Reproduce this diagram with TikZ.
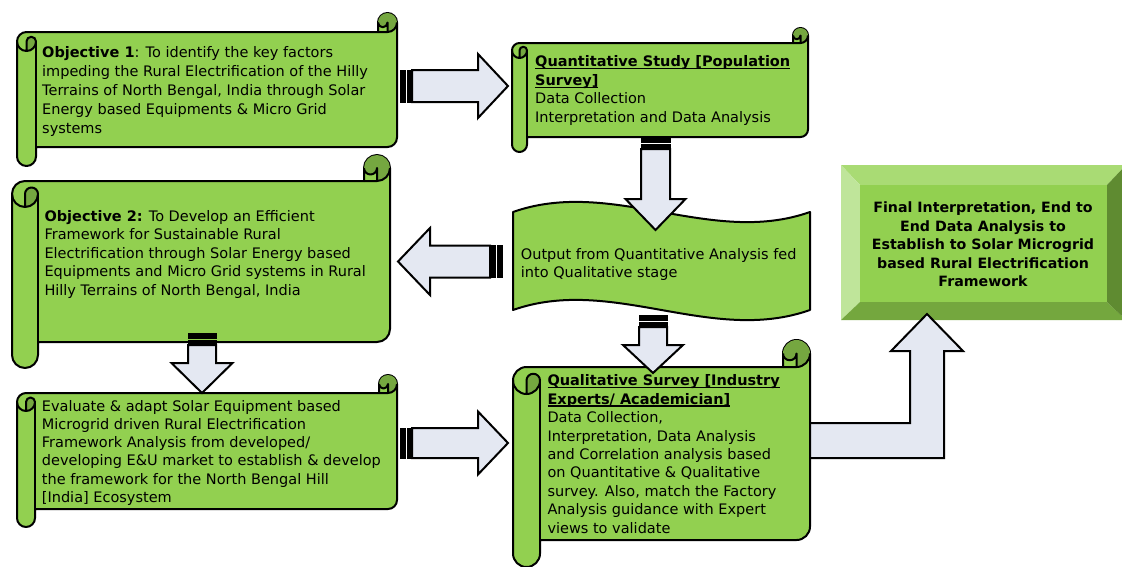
\documentclass[tikz,border=0pt]{standalone}
\usepackage{fontspec}
\setmainfont{DejaVu Sans}
\usetikzlibrary{calc}

\definecolor{scrollgreen}{HTML}{92D050}
\definecolor{curlgreen}{HTML}{75A740}
\definecolor{arrowfill}{HTML}{E4E8F2}
\definecolor{bevtop}{HTML}{A9DB74}
\definecolor{bevleft}{HTML}{BFE59A}
\definecolor{bevright}{HTML}{5F8B31}
\definecolor{bevbottom}{HTML}{74A73E}

\tikzset{
  outline/.style={draw=black, line width=2pt, line join=round},
  scrollbody/.style={outline, fill=scrollgreen},
  arrowbody/.style={draw=black, line width=2pt, line join=miter, fill=arrowfill},
  stripe/.style={fill=black, draw=black, line width=0.5pt},
  txt/.style={inner sep=0pt, anchor=base west, font=\fontsize{14.5}{18.5}\selectfont},
  ctxt/.style={inner sep=0pt, anchor=base, font=\bfseries\fontsize{14.2}{18.5}\selectfont}
}

% underline with a fixed offset below the baseline
\newcommand\ulbox[1]{\setbox0\hbox{#1}\rlap{\rule[-2.6pt]{\wd0}{1.3pt}}\box0}

% horizontal scroll: left, top, right, bottom, roll size
\newcommand\drawscroll[5]{%
  \pgfmathsetmacro\sxl{#1}\pgfmathsetmacro\syt{#2}%
  \pgfmathsetmacro\sxr{#3}\pgfmathsetmacro\syb{#4}%
  \pgfmathsetmacro\sdh{#5/2}\pgfmathsetmacro\sdq{#5/4}%
  \pgfmathsetmacro\syA{#2+#5}\pgfmathsetmacro\syH{#2+#5/2}%
  \pgfmathsetmacro\syC{#2+1.5*#5}\pgfmathsetmacro\syD{#2+2*#5}%
  \pgfmathsetmacro\syF{#4-#5}\pgfmathsetmacro\syG{#4-#5/2}%
  \pgfmathsetmacro\syE{#4-1.5*#5}%
  \pgfmathsetmacro\sxC{#3-#5}\pgfmathsetmacro\sxD{#3-#5/2}%
  \pgfmathsetmacro\sxA{#1+#5}\pgfmathsetmacro\sxH{#1+#5/2}%
  \draw[scrollbody] (\sxl,\syC) arc[start angle=180, delta angle=90, radius=\sdh]
    -- (\sxC,\syA) -- (\sxC,\syH) arc[start angle=180, delta angle=180, radius=\sdh]
    -- (\sxr,\syE) arc[start angle=0, delta angle=90, radius=\sdh]
    -- (\sxA,\syF) -- (\sxA,\syG) arc[start angle=0, delta angle=180, radius=\sdh] -- cycle;
  \fill[curlgreen] (\sxD,\syA) arc[start angle=90, delta angle=-270, radius=\sdh]
    arc[start angle=180, delta angle=-180, radius=\sdq] -- cycle;
  \fill[curlgreen] (\sxH,\syD) arc[start angle=90, delta angle=-90, radius=\sdh]
    arc[start angle=0, delta angle=-180, radius=\sdq] -- cycle;
  \draw[outline] (\sxC,\syA) -- (\sxD,\syA) arc[start angle=90, delta angle=-90, radius=\sdh];
  \draw[outline] (\sxD,\syA) -- (\sxD,\syH) arc[start angle=0, delta angle=180, radius=\sdq];
  \draw[outline] (\sxH,\syD) -- (\sxH,\syC) arc[start angle=180, delta angle=180, radius=\sdq]
    arc[start angle=0, delta angle=180, radius=\sdh];
  \draw[outline] (\sxA,\syC) -- (\sxA,\syF);
}

% striped block arrow: tail, tip, half shaft, half head, head length
\newcommand\blockarrow[5]{%
  \coordinate (#1-s1) at ($(#1)!5pt!(#2)$);
  \coordinate (#1-s2) at ($(#1)!7pt!(#2)$);
  \coordinate (#1-s3) at ($(#1)!11pt!(#2)$);
  \coordinate (#1-b) at ($(#1)!12pt!(#2)$);
  \coordinate (#1-h) at ($(#2)!#5pt!(#1)$);
  \filldraw[stripe] ($(#1)!#3pt!90:(#2)$) -- ($(#1-s1)!#3pt!90:(#2)$)
    -- ($(#1-s1)!#3pt!-90:(#2)$) -- ($(#1)!#3pt!-90:(#2)$) -- cycle;
  \filldraw[stripe] ($(#1-s2)!#3pt!90:(#2)$) -- ($(#1-s3)!#3pt!90:(#2)$)
    -- ($(#1-s3)!#3pt!-90:(#2)$) -- ($(#1-s2)!#3pt!-90:(#2)$) -- cycle;
  \draw[arrowbody] ($(#1-b)!#3pt!90:(#2)$) -- ($(#1-h)!#3pt!90:(#2)$)
    -- ($(#1-h)!#4pt!90:(#2)$) -- (#2) -- ($(#1-h)!#4pt!-90:(#2)$)
    -- ($(#1-h)!#3pt!-90:(#2)$) -- ($(#1-b)!#3pt!-90:(#2)$) -- cycle;
}

\begin{document}
\begin{tikzpicture}[x=1pt,y=-1pt]
\useasboundingbox (0,0) rectangle (1122,566);

% scrolls on the left and the survey scroll
\drawscroll{17}{13}{397}{166}{19}
\drawscroll{512}{28}{808}{152}{15}
\drawscroll{12}{155}{390}{368}{26}
\drawscroll{17}{375}{397}{527}{18}

% wavy banner
\draw[scrollbody] (513,212) .. controls (612,177) and (711,247) .. (810,212)
  -- (810,310) .. controls (711,345) and (612,275) .. (513,310) -- cycle;

% bevelled result box
\fill[bevtop] (841,165) -- (1126,165) -- (1107,185) -- (860,185) -- cycle;
\fill[bevleft] (841,165) -- (860,185) -- (860,302) -- (841,320) -- cycle;
\fill[bevbottom] (841,320) -- (860,302) -- (1107,302) -- (1126,320) -- cycle;
\fill[bevright] (1126,165) -- (1107,185) -- (1107,302) -- (1126,320) -- cycle;
\node[fill=scrollgreen, inner sep=0pt, minimum width=247, minimum height=117, anchor=north west] (finalface) at (860,185) {};

% bent arrow up to the result box
\coordinate (gTip) at (927,314);
\draw[arrowbody] (800,423) -- (910,423) -- (910,351) -- (891,351) -- (gTip)
  -- (963,351) -- (944,351) -- (944,458) -- (800,458) -- cycle;

% qualitative survey scroll
\drawscroll{513}{340}{810}{567}{27}

% block arrows between the stages
\coordinate (aAt) at (400,86);      \coordinate (aAp) at (508,86);
\blockarrow{aAt}{aAp}{16}{32}{30}
\coordinate (aBt) at (655.5,137);   \coordinate (aBp) at (655.5,230);
\blockarrow{aBt}{aBp}{14.5}{30}{31}
\coordinate (aCt) at (502,261.5);   \coordinate (aCp) at (398,261.5);
\blockarrow{aCt}{aCp}{16}{33.5}{32}
\coordinate (aDt) at (202,333);     \coordinate (aDp) at (202,393);
\blockarrow{aDt}{aDp}{14}{30.5}{30}
\coordinate (aEt) at (400,443);     \coordinate (aEp) at (508,443);
\blockarrow{aEt}{aEp}{15}{31.5}{30}
\coordinate (aFt) at (653,315);     \coordinate (aFp) at (653,373);
\blockarrow{aFt}{aFp}{14}{30}{28}

% texts
\node[txt, font=\fontsize{14.5}{19}\selectfont] (obj1) at (42,57.3) {\begin{tabular}[t]{@{}l@{}}
\textbf{Objective 1}: To identify the key factors\\
impeding the Rural Electrification of the Hilly\\
Terrains of North Bengal, India through Solar\\
Energy based Equipments \& Micro Grid\\
systems\end{tabular}};

\node[txt] (quant) at (535,66.7) {\begin{tabular}[t]{@{}l@{}}
\ulbox{\textbf{Quantitative Study [Population}}\\
\ulbox{\textbf{Survey]}}\\
Data Collection\\
Interpretation and Data Analysis\end{tabular}};

\node[txt, font=\fontsize{14.5}{18.6}\selectfont] (obj2) at (44.3,221) {\begin{tabular}[t]{@{}l@{}}
\textbf{Objective 2:} To Develop an Efficient\\
Framework for Sustainable Rural\\
Electrification through Solar Energy based\\
Equipments and Micro Grid systems in Rural\\
Hilly Terrains of North Bengal, India\end{tabular}};

\node[txt, font=\fontsize{14.5}{18}\selectfont] (outq) at (520.7,259.3) {\begin{tabular}[t]{@{}l@{}}
Output from Quantitative Analysis fed\\
into Qualitative stage\end{tabular}};

\node[txt, font=\fontsize{14.5}{18.3}\selectfont] (eval) at (41.7,411) {\begin{tabular}[t]{@{}l@{}}
Evaluate \& adapt Solar Equipment based\\
Microgrid driven Rural Electrification\\
Framework Analysis from developed/\\
developing E\&U market to establish \& develop\\
the framework for the North Bengal Hill\\
{[India]} Ecosystem\end{tabular}};

\node[txt, font=\fontsize{14.5}{18.45}\selectfont] (qual) at (547.3,385.7) {\begin{tabular}[t]{@{}l@{}}
\ulbox{\textbf{Qualitative Survey [Industry}}\\
\ulbox{\textbf{Experts/ Academician]}}\\
Data Collection,\\
Interpretation, Data Analysis\\
and Correlation analysis based\\
on Quantitative \& Qualitative\\
survey. Also, match the Factory\\
Analysis guidance with Expert\\
views to validate\end{tabular}};

\node[ctxt] (final) at (983,212.7) {\begin{tabular}[t]{@{}c@{}}
Final Interpretation, End to\\
End Data Analysis to\\
Establish to Solar Microgrid\\
based Rural Electrification\\
Framework\end{tabular}};
\end{tikzpicture}
\end{document}
